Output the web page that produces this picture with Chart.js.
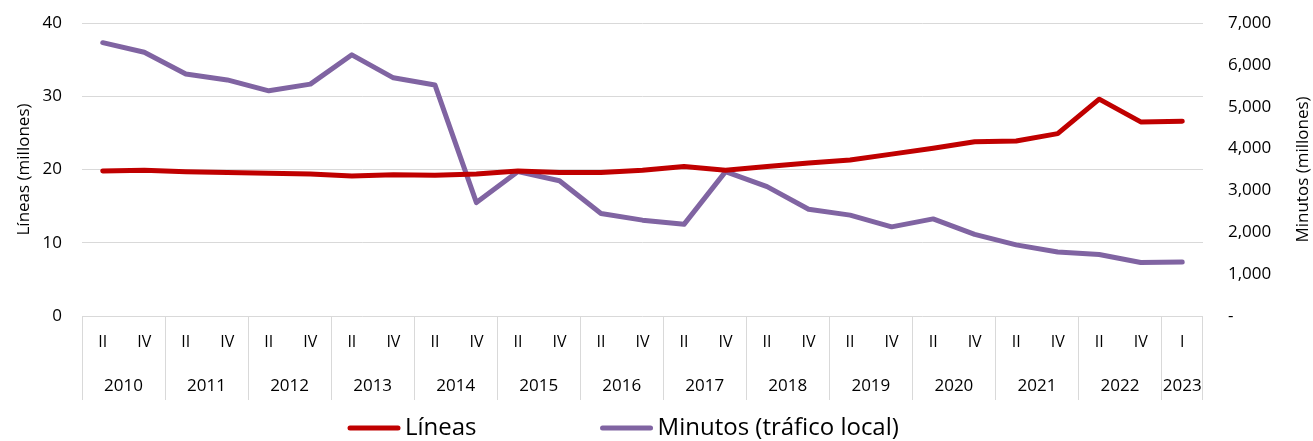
<!DOCTYPE html>
<html>
<head>
<meta charset="utf-8">
<script src="https://cdn.jsdelivr.net/npm/chart.js@4.4.0/dist/chart.umd.min.js"></script>
<style>
	html, body { margin: 0; padding: 0; background: #fff; }
	#wrap { width: 1313px; height: 441px; }
</style>
</head>
<body>
<div id="wrap"><canvas id="chart"></canvas></div>
<script>
var quarters = ['II','IV','II','IV','II','IV','II','IV','II','IV','II','IV','II','IV',
	'II','IV','II','IV','II','IV','II','IV','II','IV','II','IV','I'];
var periodYears = ['2010','2010','2011','2011','2012','2012','2013','2013','2014','2014',
	'2015','2015','2016','2016','2017','2017','2018','2018','2019','2019','2020','2020',
	'2021','2021','2022','2022','2023'];

// Líneas (millones), eje izquierdo
var lineas = [19.8, 19.9, 19.7, 19.6, 19.5, 19.4, 19.1, 19.3, 19.2, 19.4, 19.8, 19.6, 19.6, 19.9,
	20.4, 19.9, 20.4, 20.9, 21.3, 22.1, 22.9, 23.8, 23.9, 24.9, 29.6, 26.5, 26.6];
// Minutos (millones), eje derecho
var minutos = [6530, 6300, 5780, 5640, 5380, 5540, 6240, 5690, 5520, 2710, 3450, 3230, 2450, 2290,
	2190, 3450, 3090, 2550, 2410, 2130, 2320, 1950, 1700, 1530, 1470, 1280, 1290];

var leftTicks = [0, 10, 20, 30, 40];
var rightTicks = [0, 1000, 2000, 3000, 4000, 5000, 6000, 7000];

var fontFamily = "'Open Sans', 'Noto Sans', sans-serif";
var gridColor = '#d9d9d9';
var textColor = '#000';
var rightTitle = 'Minutos (millones)';

// año debajo de los trimestres + separadores
var yearRow = {
	id: 'yearRow',
	afterDraw: function(chart) {
		var ctx = chart.ctx;
		var x = chart.scales.x;
		var area = chart.chartArea;
		var half = (x.getPixelForValue(1) - x.getPixelForValue(0)) / 2;
		var bottom = area.bottom + 84;
		ctx.save();
		ctx.strokeStyle = gridColor;
		ctx.lineWidth = 1;
		ctx.fillStyle = textColor;
		ctx.font = '17px ' + fontFamily;
		ctx.textAlign = 'center';
		ctx.textBaseline = 'middle';
		var start = 0;
		var right = 0;
		for (var i = 1; i <= periodYears.length; i++) {
			if (i == periodYears.length || periodYears[i] !== periodYears[start]) {
				var left = x.getPixelForValue(start) - half;
				right = x.getPixelForValue(i - 1) + half;
				var lx = Math.round(left) + 0.5;
				ctx.beginPath();
				ctx.moveTo(lx, area.bottom);
				ctx.lineTo(lx, bottom);
				ctx.stroke();
				ctx.fillText(periodYears[start], (left + right) / 2, area.bottom + 70);
				start = i;
			}
		}
		var rx = Math.round(right) - 0.5;
		ctx.beginPath();
		ctx.moveTo(rx, area.bottom);
		ctx.lineTo(rx, bottom);
		ctx.stroke();

		// titulo del eje derecho, leído de abajo hacia arriba
		var y2 = chart.scales.y2;
		ctx.save();
		ctx.translate(1303, (y2.top + y2.bottom) / 2);
		ctx.rotate(-Math.PI / 2);
		ctx.font = '17px ' + fontFamily;
		ctx.fillText(rightTitle, 0, 0);
		ctx.restore();
		ctx.restore();
	}
};

// leyenda abajo
var bottomLegend = {
	id: 'bottomLegend',
	afterDraw: function(chart) {
		var ctx = chart.ctx;
		var sets = chart.data.datasets;
		var sample = 52, gap = 5, between = 124;
		ctx.save();
		ctx.font = '24px ' + fontFamily;
		ctx.textBaseline = 'middle';
		ctx.textAlign = 'left';
		var xPos = 348;
		var y = 428;
		sets.forEach(function(ds) {
			ctx.strokeStyle = ds.borderColor;
			ctx.lineWidth = 5;
			ctx.lineCap = 'round';
			ctx.beginPath();
			ctx.moveTo(xPos + 2, y);
			ctx.lineTo(xPos + sample - 2, y);
			ctx.stroke();
			ctx.fillStyle = textColor;
			ctx.fillText(ds.label, xPos + sample + gap, y);
			xPos += sample + gap + ctx.measureText(ds.label).width + between;
		});
		ctx.restore();
	}
};

var ctx = document.getElementById('chart').getContext('2d');

var chart = new Chart(ctx, {
	type: 'line',
	data: {
		labels: quarters,
		datasets: [{
			label: 'Líneas',
			data: lineas,
			yAxisID: 'y',
			borderColor: '#c00000',
			backgroundColor: '#c00000',
			borderWidth: 5,
			borderCapStyle: 'round',
			borderJoinStyle: 'round',
			pointRadius: 0,
			tension: 0
		}, {
			label: 'Minutos (tráfico local)',
			data: minutos,
			yAxisID: 'y2',
			borderColor: '#8064a2',
			backgroundColor: '#8064a2',
			borderWidth: 5,
			borderCapStyle: 'round',
			borderJoinStyle: 'round',
			pointRadius: 0,
			tension: 0
		}]
	},
	options: {
		responsive: true,
		maintainAspectRatio: false,
		animation: false,
		layout: { padding: { top: 23, bottom: 41, left: 0, right: 0 } },
		plugins: {
			legend: { display: false },
			tooltip: { enabled: false }
		},
		scales: {
			x: {
				offset: true,
				grid: { display: false, drawTicks: false },
				border: { display: false },
				ticks: {
					color: textColor,
					font: { family: fontFamily, size: 16 },
					padding: 17,
					maxRotation: 0,
					autoSkip: false
				},
				afterFit: function(scale) { scale.height = 84; }
			},
			y: {
				position: 'left',
				min: 0,
				max: 40,
				afterBuildTicks: function(scale) {
					scale.ticks = leftTicks.map(function(v) { return { value: v }; });
				},
				// tick marks transparentes: solo separan las etiquetas del area
				grid: { color: gridColor, lineWidth: 1, drawTicks: true, tickLength: 20, tickColor: 'rgba(0,0,0,0)' },
				border: { display: false },
				ticks: {
					color: textColor,
					font: { family: fontFamily, size: 17 },
					padding: 0
				},
				title: {
					display: true,
					text: 'Líneas (millones)',
					color: textColor,
					font: { family: fontFamily, size: 17 },
					padding: { top: 14, bottom: 0 }
				},
				afterFit: function(scale) { scale.width = 82; }
			},
			y2: {
				position: 'right',
				min: 0,
				max: 7000,
				afterBuildTicks: function(scale) {
					scale.ticks = rightTicks.map(function(v) { return { value: v }; });
				},
				grid: { drawOnChartArea: false, drawTicks: true, tickLength: 25, tickColor: 'rgba(0,0,0,0)' },
				border: { display: false },
				ticks: {
					color: textColor,
					font: { family: fontFamily, size: 17 },
					padding: 0,
					callback: function(v) {
						return v === 0 ? '-' : v.toLocaleString('en-US');
					}
				},
				afterFit: function(scale) { scale.width = 110; }
			}
		}
	},
	plugins: [yearRow, bottomLegend]
});
</script>
</body>
</html>
